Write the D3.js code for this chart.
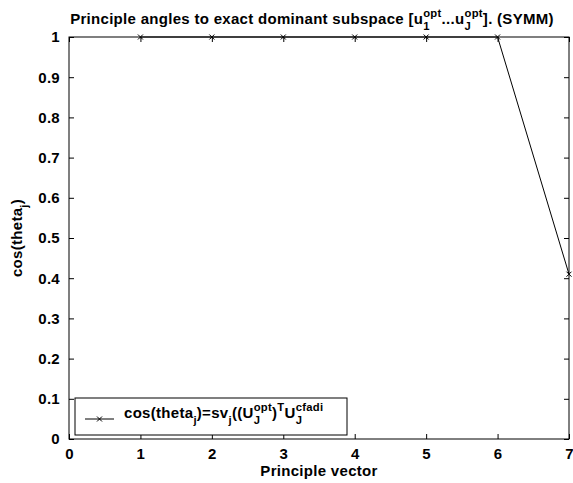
<!DOCTYPE html>
<html lang="en">
  <head>
    <meta charset="UTF-8" />
    <title>principle angles</title>
    <style>
      body { margin: 0; background: #fff; }
      svg text { font-family: "Liberation Sans", Arial, sans-serif; font-weight: bold; fill: #000; letter-spacing: 0.3px; }
    </style>
  </head>
  <body>
    <svg width="573" height="483"></svg>
    <script src="https://d3js.org/d3.v7.min.js"></script>
    <script>
      // data
      var vectors = [1, 2, 3, 4, 5, 6, 7];
      var cosTheta = [1, 1, 1, 1, 1, 1, 0.41];
      var xTicks = [0, 1, 2, 3, 4, 5, 6, 7];
      var yTicks = [0, 0.1, 0.2, 0.3, 0.4, 0.5, 0.6, 0.7, 0.8, 0.9, 1];

      var svg = d3.select("svg"),
        mLeft = 69, mRight = 569, mTop = 37, mBottom = 439;

      var x = d3.scaleLinear().domain([0, 7]).range([mLeft, mRight]);
      var y = d3.scaleLinear().domain([0, 1]).range([mBottom, mTop]);

      // box
      svg.append("rect")
        .attr("x", mLeft).attr("y", mTop)
        .attr("width", mRight - mLeft).attr("height", mBottom - mTop)
        .attr("fill", "none").attr("stroke", "#000").attr("stroke-width", 1);

      var fmt = function(d) { return d === 0 || d === 1 ? String(d) : d3.format(".1f")(d); };

      // axes, ticks inward
      svg.append("g").attr("transform", "translate(0," + mBottom + ")")
        .call(d3.axisBottom(x).tickValues(xTicks).tickSizeInner(-5).tickSizeOuter(0).tickPadding(9).tickFormat(d3.format("d")));
      svg.append("g").attr("transform", "translate(" + mLeft + ",0)")
        .call(d3.axisLeft(y).tickValues(yTicks).tickSizeInner(-5).tickSizeOuter(0).tickPadding(9).tickFormat(fmt));
      svg.append("g").attr("transform", "translate(0," + mTop + ")")
        .call(d3.axisTop(x).tickValues(xTicks).tickSizeInner(-5).tickSizeOuter(0).tickFormat(""));
      svg.append("g").attr("transform", "translate(" + mRight + ",0)")
        .call(d3.axisRight(y).tickValues(yTicks).tickSizeInner(-5).tickSizeOuter(0).tickFormat(""));
      svg.selectAll(".domain").remove();
      svg.selectAll(".tick line").attr("stroke", "#000");
      svg.selectAll(".tick text").attr("font-size", null).attr("font-family", null)
        .style("font-size", "15px");

      // line + x markers
      var pts = vectors.map(function(v, i) { return [v, cosTheta[i]]; });
      svg.append("path").datum(pts)
        .attr("fill", "none").attr("stroke", "#000").attr("stroke-width", 1)
        .attr("d", d3.line().x(function(d) { return x(d[0]); }).y(function(d) { return y(d[1]); }));

      function cross(g, cx, cy) {
        var s = 2.5;
        g.append("path")
          .attr("d", "M" + (cx - s) + "," + (cy - s) + "L" + (cx + s) + "," + (cy + s) +
                     "M" + (cx - s) + "," + (cy + s) + "L" + (cx + s) + "," + (cy - s))
          .attr("stroke", "#000").attr("stroke-width", 1);
      }
      pts.forEach(function(d) { cross(svg, x(d[0]), y(d[1])); });

      // rich text: parts are strings or {sub, sup} stacked after the previous part
      function rich(parent, px, py, parts, size, anchor, rotate) {
        var g = parent.append("g");
        var inner = g.append("g");
        var cx = 0, small = size * 0.75;
        parts.forEach(function(p) {
          if (typeof p === "string") {
            var t = inner.append("text").attr("x", cx).attr("y", 0).style("font-size", size + "px").text(p);
            cx += t.node().getComputedTextLength();
          } else {
            var w = 0;
            if (p.sub) {
              var s = inner.append("text").attr("x", cx).attr("y", size * 0.4).style("font-size", small + "px").text(p.sub);
              w = Math.max(w, s.node().getComputedTextLength());
            }
            if (p.sup) {
              var u = inner.append("text").attr("x", cx).attr("y", -size * 0.5).style("font-size", small + "px").text(p.sup);
              w = Math.max(w, u.node().getComputedTextLength());
            }
            cx += w;
          }
        });
        var shift = anchor === "middle" ? -cx / 2 : 0;
        inner.attr("transform", "translate(" + shift + ",0)");
        g.attr("transform", "translate(" + px + "," + py + ")" + (rotate ? " rotate(" + rotate + ")" : ""));
        return cx;
      }

      // title
      rich(svg, (mLeft + mRight) / 2 - 7, 24,
        ["Principle angles to exact dominant subspace [u", {sub: "1", sup: "opt"}, "...u", {sub: "J", sup: "opt"}, "]. (SYMM)"],
        15, "middle");

      // axis labels
      svg.append("text").attr("x", (mLeft + mRight) / 2).attr("y", 476)
        .attr("text-anchor", "middle").style("font-size", "15px").text("Principle vector");
      rich(svg, 22, 238, ["cos(theta", {sub: "j"}, ")"], 15, "middle", -90);

      // legend
      var lg = svg.append("g");
      lg.append("rect").attr("x", 75).attr("y", 398).attr("width", 272).attr("height", 37)
        .attr("fill", "#fff").attr("stroke", "#000").attr("stroke-width", 1);
      lg.append("line").attr("x1", 85).attr("x2", 114).attr("y1", 419).attr("y2", 419)
        .attr("stroke", "#000").attr("stroke-width", 1);
      cross(lg, 99.5, 419);
      rich(lg, 124, 418,
        ["cos(theta", {sub: "j"}, ")=sv", {sub: "j"}, "((U", {sub: "J", sup: "opt"}, ")", {sup: "T"}, "U", {sub: "J", sup: "cfadi"}],
        15, "start");
    </script>
  </body>
</html>
